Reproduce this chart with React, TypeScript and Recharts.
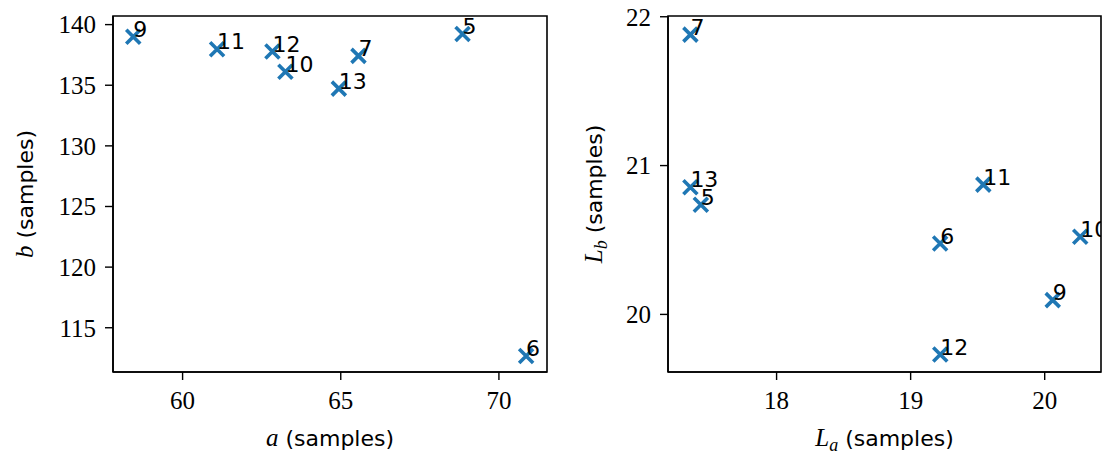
import React from "react";
import { ScatterChart, Scatter, XAxis, YAxis, ReferenceArea, Label } from "recharts";

// run ids, in the order the points are listed
const runIds = ["5", "6", "7", "9", "10", "11", "12", "13"];

// left panel: a vs b
const aSamples = [68.85, 70.86, 65.56, 58.44, 63.25, 61.09, 62.84, 64.94];
const bSamples = [139.22, 112.67, 137.42, 139.0, 136.11, 137.97, 137.78, 134.72];

// right panel: La vs Lb
const laSamples = [17.435, 19.22, 17.357, 20.06, 20.265, 19.542, 19.221, 17.357];
const lbSamples = [20.737, 20.476, 21.88, 20.096, 20.522, 20.872, 19.73, 20.855];

const aTicks = [60, 65, 70];
const bTicks = [115, 120, 125, 130, 135, 140];
const laTicks = [18, 19, 20];
const lbTicks = [20, 21, 22];

const BLUE = "#1f77b4";
const SERIF = "'Liberation Serif', 'DejaVu Serif', serif";
const SANS = "'DejaVu Sans', sans-serif";
const tickStyle = { fontFamily: SERIF, fontSize: 25, fill: "#000" };

const leftData = runIds.map((id, i) => ({ id, x: aSamples[i], y: bSamples[i] }));
const rightData = runIds.map((id, i) => ({ id, x: laSamples[i], y: lbSamples[i] }));

function CrossMarker(props: any) {
  const { cx, cy, payload } = props;
  const r = 7;
  return (
    <g>
      <path
        d={`M${cx - r},${cy - r}L${cx + r},${cy + r}M${cx - r},${cy + r}L${cx + r},${cy - r}`}
        stroke={BLUE}
        strokeWidth={3.6}
        fill="none"
      />
      <text x={cx} y={cy} fontFamily={SANS} fontSize={22} fill="#000">
        {payload.id}
      </text>
    </g>
  );
}

function xTitle(letter: string, sub?: string) {
  return (p: any) => {
    const vb = p.viewBox;
    return (
      <text x={vb.x + vb.width / 2} y={vb.y + 74} textAnchor="middle" fontSize={22} fill="#000" fontFamily={SANS}>
        <tspan fontFamily={SERIF} fontStyle="italic" fontSize={25}>{letter}</tspan>
        {sub ? <tspan fontFamily={SERIF} fontStyle="italic" fontSize={18} dy={5}>{sub}</tspan> : null}
        <tspan dy={sub ? -5 : 0}> (samples)</tspan>
      </text>
    );
  };
}

function yTitle(letter: string, sub: string | undefined, offset: number) {
  return (p: any) => {
    const vb = p.viewBox;
    const x = vb.x + offset;
    const y = vb.y + vb.height / 2;
    return (
      <text x={x} y={y} transform={`rotate(-90, ${x}, ${y})`} textAnchor="middle" fontSize={22} fill="#000" fontFamily={SANS}>
        <tspan fontFamily={SERIF} fontStyle="italic" fontSize={25}>{letter}</tspan>
        {sub ? <tspan fontFamily={SERIF} fontStyle="italic" fontSize={18} dy={5}>{sub}</tspan> : null}
        <tspan dy={sub ? -5 : 0}> (samples)</tspan>
      </text>
    );
  };
}

function Panel(props: {
  data: any[];
  width: number;
  margin: any;
  xDomain: [number, number];
  yDomain: [number, number];
  xTicks: number[];
  yTicks: number[];
  xLabel: any;
  yLabel: any;
}) {
  const { data, width, margin, xDomain, yDomain, xTicks, yTicks, xLabel, yLabel } = props;
  return (
    <ScatterChart width={width} height={456} margin={margin}>
      <XAxis
        type="number"
        dataKey="x"
        domain={xDomain}
        ticks={xTicks}
        interval={0}
        height={60}
        tick={tickStyle}
        tickSize={8}
        tickMargin={11}
        axisLine={{ stroke: "#000", strokeWidth: 1.6 }}
        tickLine={{ stroke: "#000", strokeWidth: 1.4 }}
        allowDataOverflow
      >
        <Label content={xLabel} />
      </XAxis>
      <YAxis
        type="number"
        dataKey="y"
        domain={yDomain}
        ticks={yTicks}
        interval={0}
        width={80}
        tick={tickStyle}
        tickSize={8}
        tickMargin={9}
        axisLine={{ stroke: "#000", strokeWidth: 1.6 }}
        tickLine={{ stroke: "#000", strokeWidth: 1.4 }}
        allowDataOverflow
      >
        <Label content={yLabel} />
      </YAxis>
      <ReferenceArea
        x1={xDomain[0]}
        x2={xDomain[1]}
        y1={yDomain[0]}
        y2={yDomain[1]}
        fill="none"
        stroke="#000"
        strokeWidth={1.6}
        fillOpacity={0}
        strokeOpacity={1}
      />
      <Scatter data={data} shape={CrossMarker} isAnimationActive={false} />
    </ScatterChart>
  );
}

export default function App() {
  return (
    <div style={{ position: "absolute", left: 0, top: 0, width: 1104, height: 456, background: "#fff", display: "flex" }}>
      <Panel
        data={leftData}
        width={560}
        margin={{ top: 16, right: 13, bottom: 24, left: 33 }}
        xDomain={[57.8, 71.52]}
        yDomain={[111.35, 140.71]}
        xTicks={aTicks}
        yTicks={bTicks}
        xLabel={xTitle("a")}
        yLabel={yTitle("b", undefined, 0)}
      />
      <Panel
        data={rightData}
        width={544}
        margin={{ top: 16, right: 3, bottom: 24, left: 28 }}
        xDomain={[17.19, 20.42]}
        yDomain={[19.613, 22.005]}
        xTicks={laTicks}
        yTicks={lbTicks}
        xLabel={xTitle("L", "a")}
        yLabel={yTitle("L", "b", 14)}
      />
    </div>
  );
}
